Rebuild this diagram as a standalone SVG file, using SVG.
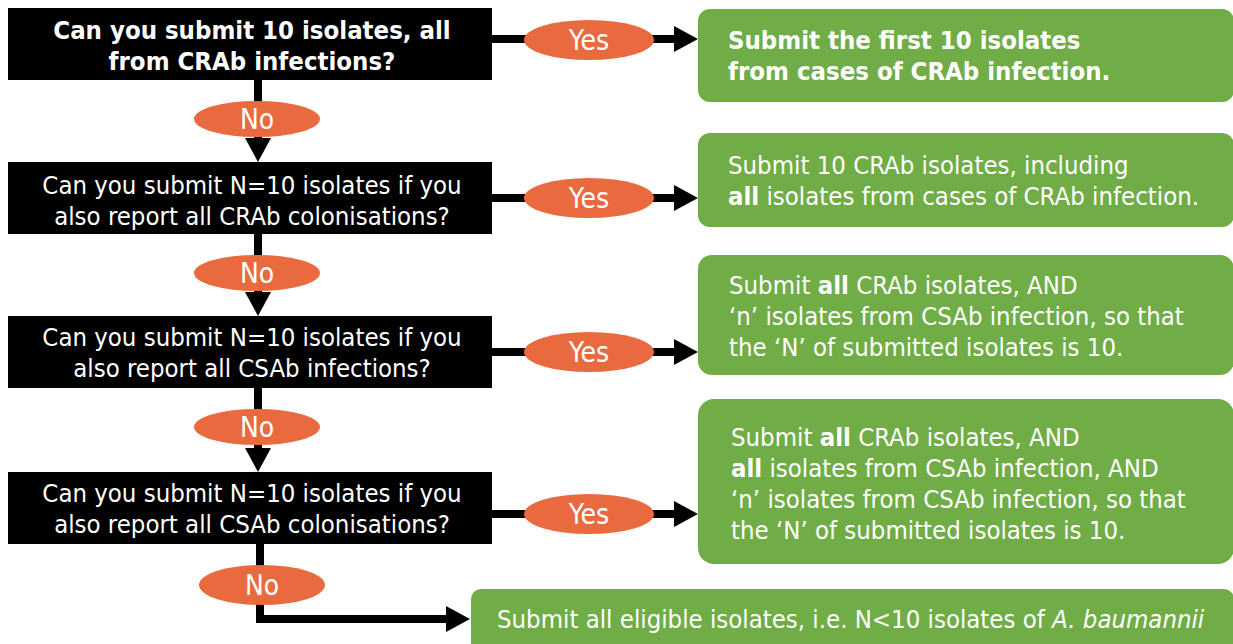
<svg xmlns="http://www.w3.org/2000/svg" width="1233" height="644" viewBox="0 0 1233 644">
<style>
text{font-family:"DejaVu Sans Condensed","DejaVu Sans",sans-serif;font-size:25.5px;fill:#fff}
.q{text-anchor:middle}
.b{font-weight:bold}
.qbox{fill:#000}
.ans{fill:#70AD47}
.lab{fill:#E96A3F}
.conn{stroke:#000;stroke-width:8;fill:none}
.lt{text-anchor:middle;font-size:28px}
</style>
<defs>
<marker id="ah" markerUnits="userSpaceOnUse" markerWidth="24" markerHeight="26" refX="14" refY="13" orient="auto" overflow="visible">
<path d="M0,0 L24,13 L0,26 Z" fill="#000"/>
</marker>
</defs>
<g id="connectors">
<path class="conn" d="M492,39 H688" marker-end="url(#ah)"/>
<path class="conn" d="M492,198 H688" marker-end="url(#ah)"/>
<path class="conn" d="M492,352 H688" marker-end="url(#ah)"/>
<path class="conn" d="M492,514 H688" marker-end="url(#ah)"/>
<path class="conn" d="M258,80 V152" marker-end="url(#ah)"/>
<path class="conn" d="M258,234 V306" marker-end="url(#ah)"/>
<path class="conn" d="M258,388 V462" marker-end="url(#ah)"/>
<path class="conn" d="M260,544 V619 H460" marker-end="url(#ah)"/>
</g>
<g id="q1"><rect class="qbox" x="8" y="8" width="484" height="72"/>
<text class="q b" x="252" y="39">Can you submit 10 isolates, all</text>
<text class="q b" x="252" y="70">from CRAb infections?</text></g>
<g id="q2"><rect class="qbox" x="8" y="162" width="484" height="72"/>
<text class="q" x="252" y="194">Can you submit N=10 isolates if you</text>
<text class="q" x="252" y="225">also report all CRAb colonisations?</text></g>
<g id="q3"><rect class="qbox" x="8" y="316" width="484" height="72"/>
<text class="q" x="252" y="346">Can you submit N=10 isolates if you</text>
<text class="q" x="252" y="377">also report all CSAb infections?</text></g>
<g id="q4"><rect class="qbox" x="8" y="472" width="484" height="72"/>
<text class="q" x="252" y="502">Can you submit N=10 isolates if you</text>
<text class="q" x="252" y="533">also report all CSAb colonisations?</text></g>
<g id="yes1"><ellipse class="lab" cx="589" cy="40" rx="65" ry="20"/><text class="lt" x="589" y="50">Yes</text></g>
<g id="yes2"><ellipse class="lab" cx="589" cy="198" rx="65" ry="20"/><text class="lt" x="589" y="208">Yes</text></g>
<g id="yes3"><ellipse class="lab" cx="589" cy="352" rx="65" ry="20"/><text class="lt" x="589" y="362">Yes</text></g>
<g id="yes4"><ellipse class="lab" cx="589" cy="514" rx="65" ry="20"/><text class="lt" x="589" y="524">Yes</text></g>
<g id="no1"><ellipse class="lab" cx="257" cy="119" rx="63" ry="18"/><text class="lt" x="257" y="129">No</text></g>
<g id="no2"><ellipse class="lab" cx="257" cy="273" rx="63" ry="18"/><text class="lt" x="257" y="283">No</text></g>
<g id="no3"><ellipse class="lab" cx="257" cy="427" rx="63" ry="18"/><text class="lt" x="257" y="437">No</text></g>
<g id="no4"><ellipse class="lab" cx="262" cy="585" rx="63" ry="20"/><text class="lt" x="262" y="595">No</text></g>
<g id="a1"><rect class="ans" x="698" y="9" width="536" height="93" rx="12"/>
<text class="b" x="728" y="49">Submit the first 10 isolates</text>
<text class="b" x="728" y="80">from cases of CRAb infection.</text></g>
<g id="a2"><rect class="ans" x="698" y="133" width="536" height="94" rx="12"/>
<text x="728" y="174">Submit 10 CRAb isolates, including</text>
<text x="728" y="205"><tspan class="b">all</tspan> isolates from cases of CRAb infection.</text></g>
<g id="a3"><rect class="ans" x="698" y="255" width="536" height="120" rx="14"/>
<text x="729" y="294">Submit <tspan class="b">all</tspan> CRAb isolates, AND</text>
<text x="729" y="325">‘n’ isolates from CSAb infection, so that</text>
<text x="729" y="356">the ‘N’ of submitted isolates is 10.</text></g>
<g id="a4"><rect class="ans" x="698" y="399" width="536" height="165" rx="16"/>
<text x="731" y="446">Submit <tspan class="b">all</tspan> CRAb isolates, AND</text>
<text x="731" y="477"><tspan class="b">all</tspan> isolates from CSAb infection, AND</text>
<text x="731" y="508">‘n’ isolates from CSAb infection, so that</text>
<text x="731" y="539">the ‘N’ of submitted isolates is 10.</text></g>
<g id="a5"><rect class="ans" x="471" y="589" width="763" height="70" rx="10"/>
<text x="497" y="628">Submit all eligible isolates, i.e. N&lt;10 isolates of <tspan font-style="italic">A. baumannii</tspan></text></g>
</svg>
